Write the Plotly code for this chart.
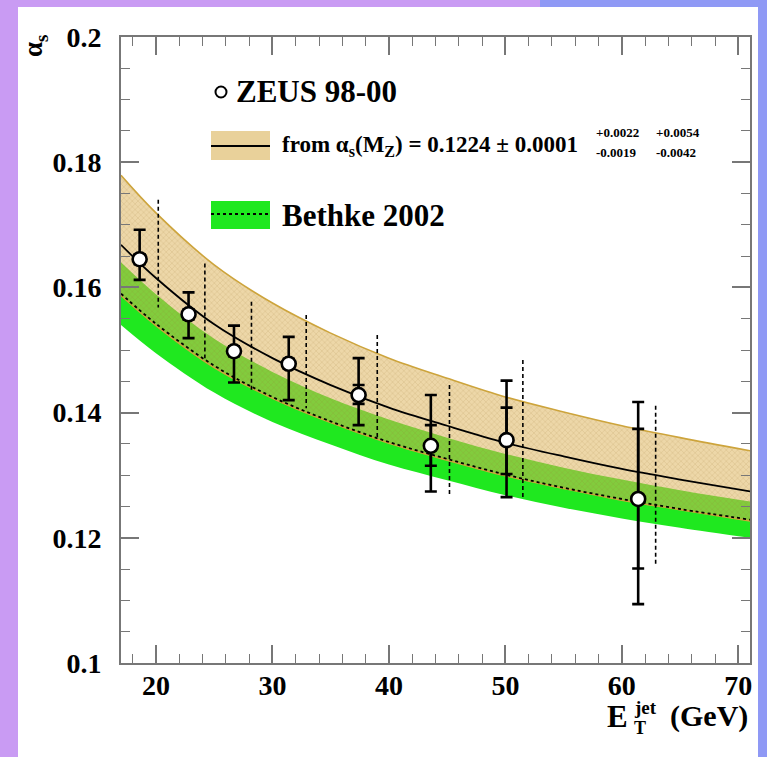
import plotly.graph_objects as go

# ---------------- data ----------------
# ZEUS 98-00 points
et = [18.6, 22.8, 26.7, 31.4, 37.4, 43.6, 50.1, 61.4]
alphas = [0.1645, 0.1557, 0.1498, 0.1478, 0.1428, 0.1347, 0.1356, 0.1262]
tot_up = [0.0047, 0.0035, 0.0041, 0.0043, 0.0059, 0.0081, 0.0095, 0.0155]
tot_dn = [0.0033, 0.0038, 0.0050, 0.0058, 0.0048, 0.0073, 0.0091, 0.0168]
stat_up = [0.0008, 0.0008, 0.0008, 0.0008, 0.0016, 0.0033, 0.0052, 0.0112]
stat_dn = [0.0008, 0.0008, 0.0008, 0.0008, 0.0014, 0.0032, 0.0054, 0.0111]
# dashed (energy-scale) bars beside each point
dash_x = [20.2, 24.2, 28.2, 32.9, 39.0, 45.2, 51.5, 62.9]
dash_hi = [0.1740, 0.1638, 0.1577, 0.1556, 0.1524, 0.1444, 0.1484, 0.1411]
dash_lo = [0.1568, 0.1487, 0.1434, 0.1407, 0.1359, 0.1266, 0.1265, 0.1157]

# curves
e_grid = [17, 20, 25, 30, 35, 40, 45, 50, 55, 60, 65, 71]
zeus_central = [0.1668, 0.1615, 0.1541, 0.1487, 0.1444, 0.1408, 0.1379, 0.1352, 0.1330, 0.1310, 0.1293, 0.1274]
zeus_upper = [0.1779, 0.1719, 0.1636, 0.1575, 0.1527, 0.1487, 0.1455, 0.1425, 0.1401, 0.1379, 0.1360, 0.1339]
zeus_lower = [0.1587, 0.1539, 0.1472, 0.1423, 0.1384, 0.1351, 0.1324, 0.1299, 0.1279, 0.1260, 0.1245, 0.1227]
bethke_central = [0.1590, 0.1542, 0.1475, 0.1425, 0.1386, 0.1353, 0.1326, 0.1301, 0.1280, 0.1262, 0.1246, 0.1229]
bethke_upper = [0.1640, 0.1589, 0.1518, 0.1465, 0.1423, 0.1389, 0.1360, 0.1334, 0.1312, 0.1293, 0.1276, 0.1258]
bethke_lower = [0.1540, 0.1495, 0.1432, 0.1385, 0.1349, 0.1317, 0.1292, 0.1268, 0.1248, 0.1231, 0.1216, 0.1200]

x_ticks = [20, 30, 40, 50, 60, 70]
y_ticks = [0.1, 0.12, 0.14, 0.16, 0.18, 0.2]
y_tick_labels = ["0.1", "0.12", "0.14", "0.16", "0.18", "0.2"]

# ---------------- styling ----------------
FONT = "Liberation Serif"
GREEN = "#1FE81F"
TAN_EDGE = "#CDA43C"
LAV = "#C99BF3"
BLUE = "#8F99F5"

W_, H_ = 767, 757
L, R, T, B = 121, 750, 37, 663
PW, PH = R - L, B - T


def px(x):
    return (x - L) / PW


def py(y):
    return (B - y) / PH


fig = go.Figure()

# Bethke band
fig.add_trace(go.Scatter(x=e_grid, y=bethke_lower, mode="lines", line=dict(width=0, shape="spline"),
                         hoverinfo="skip", showlegend=False))
fig.add_trace(go.Scatter(x=e_grid, y=bethke_upper, mode="lines", line=dict(width=0, shape="spline"),
                         fill="tonexty", fillcolor=GREEN, hoverinfo="skip", showlegend=False))
# ZEUS hatched band
fig.add_trace(go.Scatter(x=e_grid, y=zeus_lower, mode="lines", line=dict(width=0, shape="spline"),
                         hoverinfo="skip", showlegend=False))
fig.add_trace(go.Scatter(x=e_grid, y=zeus_upper, mode="lines", line=dict(width=0, shape="spline"),
                         fill="tonexty",
                         fillpattern=dict(shape="x", size=4, solidity=0.3,
                                          bgcolor="rgba(222,178,88,0.52)",
                                          fgcolor="rgba(150,110,40,0.4)"),
                         hoverinfo="skip", showlegend=False))
# band edges
for yy in (zeus_upper, zeus_lower):
    fig.add_trace(go.Scatter(x=e_grid, y=yy, mode="lines",
                             line=dict(color=TAN_EDGE, width=1.6, shape="spline"),
                             hoverinfo="skip", showlegend=False))
fig.add_trace(go.Scatter(x=e_grid, y=bethke_central, mode="lines",
                         line=dict(color="black", width=1.8, dash="dot", shape="spline"),
                         hoverinfo="skip", showlegend=False))
fig.add_trace(go.Scatter(x=e_grid, y=zeus_central, mode="lines",
                         line=dict(color="black", width=1.8, shape="spline"),
                         hoverinfo="skip", showlegend=False))

# dashed vertical bars
dx, dy = [], []
for xx, lo, hi in zip(dash_x, dash_lo, dash_hi):
    dx += [xx, xx, None]
    dy += [hi, lo, None]
fig.add_trace(go.Scatter(x=dx, y=dy, mode="lines",
                         line=dict(color="black", width=1.6, dash="4px,3px"),
                         hoverinfo="skip", showlegend=False))

# stat error ticks
fig.add_trace(go.Scatter(x=et, y=alphas, mode="markers", marker=dict(size=1, color="rgba(0,0,0,0)"),
                         error_y=dict(type="data", symmetric=False, array=stat_up, arrayminus=stat_dn,
                                      color="black", thickness=2.6, width=6),
                         hoverinfo="skip", showlegend=False))
# points with total errors
fig.add_trace(go.Scatter(x=et, y=alphas, mode="markers",
                         marker=dict(symbol="circle", size=14, color="white",
                                     line=dict(color="black", width=2.6)),
                         error_y=dict(type="data", symmetric=False, array=tot_up, arrayminus=tot_dn,
                                      color="black", thickness=2.6, width=6),
                         showlegend=False))

shapes = []
# background panels
shapes.append(dict(type="rect", xref="paper", yref="paper", layer="below",
                   x0=px(0), x1=px(W_), y0=py(H_), y1=py(0), fillcolor=LAV, line_width=0))
shapes.append(dict(type="rect", xref="paper", yref="paper", layer="below",
                   x0=px(540), x1=px(W_), y0=py(8), y1=py(0), fillcolor=BLUE, line_width=0))
shapes.append(dict(type="rect", xref="paper", yref="paper", layer="below",
                   x0=px(758), x1=px(W_), y0=py(H_), y1=py(0), fillcolor=BLUE, line_width=0))
shapes.append(dict(type="rect", xref="paper", yref="paper", layer="below",
                   x0=px(18), x1=px(758), y0=py(H_), y1=py(7), fillcolor="white", line_width=0))

# legend graphics
shapes.append(dict(type="circle", xref="paper", yref="paper",
                   x0=px(215.5), x1=px(226.5), y0=py(97.5), y1=py(86.5),
                   fillcolor="white", line=dict(color="black", width=2)))
shapes.append(dict(type="rect", xref="paper", yref="paper",
                   x0=px(211), x1=px(270), y0=py(160), y1=py(131),
                   fillcolor="#E9D19A", line_width=0))
shapes.append(dict(type="line", xref="paper", yref="paper",
                   x0=px(211), x1=px(270), y0=py(146), y1=py(146),
                   line=dict(color="black", width=1.8)))
shapes.append(dict(type="rect", xref="paper", yref="paper",
                   x0=px(211), x1=px(270), y0=py(229), y1=py(201),
                   fillcolor=GREEN, line_width=0))
shapes.append(dict(type="line", xref="paper", yref="paper",
                   x0=px(211), x1=px(270), y0=py(214), y1=py(214),
                   line=dict(color="black", width=1.8, dash="dot")))

ann = []


def text(x, y, s, size, xanchor="left", angle=0):
    ann.append(dict(xref="paper", yref="paper", x=px(x), y=py(y), text=s, showarrow=False,
                    xanchor=xanchor, yanchor="middle", textangle=angle,
                    font=dict(family=FONT, size=size, color="black", weight="bold")))


text(234, 92, "ZEUS 98-00", 31)
text(280, 146, "from α<sub>s</sub>(M<sub>Z</sub>) = 0.1224 ± 0.0001", 23)
text(594, 132, "+0.0022", 13)
text(594, 153, "-0.0019", 13)
text(654, 132, "+0.0054", 13)
text(654, 153, "-0.0042", 13)
text(280, 215, "Bethke 2002", 31)
# axis titles
text(35, 46, "α<sub>s</sub>", 27, xanchor="center", angle=-90)
text(605, 716, "E", 31)
text(632, 707, "jet", 19)
text(632, 728, "T", 18)
text(668, 716, "(GeV)", 30)

fig.update_layout(
    width=W_, height=H_,
    margin=dict(l=L, r=W_ - R, t=T, b=H_ - B, pad=0),
    paper_bgcolor=LAV, plot_bgcolor="white",
    shapes=shapes, annotations=ann, showlegend=False,
    font=dict(family=FONT, color="black"),
)
fig.update_xaxes(range=[17.0, 71.0], tickvals=x_ticks, ticks="inside", ticklen=18, tickwidth=1.5,
                 tickcolor="#777", showline=True, linecolor="#777", linewidth=2, mirror="allticks",
                 showgrid=False, zeroline=False, ticklabelstandoff=-4,
                 tickfont=dict(family=FONT, size=28, color="black", weight="bold"),
                 minor=dict(dtick=2, tick0=0, ticks="inside", ticklen=9, tickwidth=1.2, tickcolor="#777",
                            showgrid=False))
fig.update_yaxes(range=[0.1, 0.2], tickvals=y_ticks, ticktext=y_tick_labels, ticks="inside", ticklen=18,
                 tickwidth=1.5, tickcolor="#777", showline=True, linecolor="#777", linewidth=2,
                 mirror="allticks", showgrid=False, zeroline=False, ticklabelstandoff=12,
                 tickfont=dict(family=FONT, size=28, color="black", weight="bold"),
                 minor=dict(dtick=0.005, tick0=0.1, ticks="inside", ticklen=9, tickwidth=1.2,
                            tickcolor="#777", showgrid=False))

fig.write_html("out.html", config={"displayModeBar": False},
               post_script="document.body.style.margin='0';document.body.style.overflow='hidden';")
